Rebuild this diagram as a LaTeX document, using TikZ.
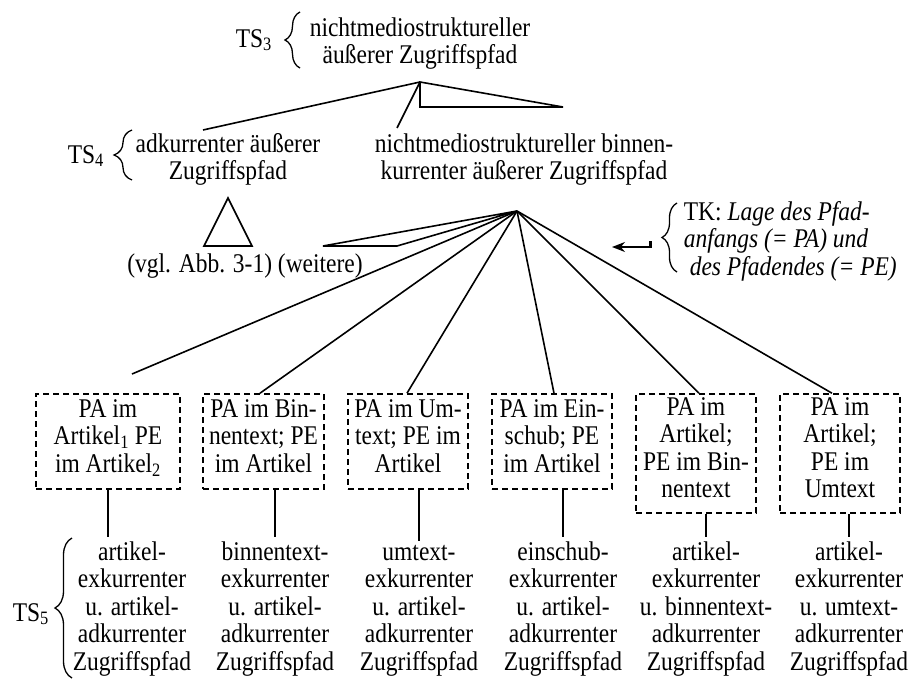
\documentclass[tikz,border=0pt]{standalone}
\usepackage{fontspec}
\setmainfont{Liberation Serif}[FakeStretch=0.87]
\usetikzlibrary{arrows.meta,decorations.pathreplacing}

% extra depth below the last line of a boxed label
\newcommand\lastdp{\rule[-13pt]{0pt}{13pt}}

\begin{document}
\begin{tikzpicture}[x=1pt,y=-1pt,line width=1.6pt,
  every node/.style={font=\fontsize{27}{27.5}\selectfont,inner sep=0pt},
  % multi-line texts are placed by the baseline of their last line
  txt/.style={align=center,anchor=base},
  lbl/.style={anchor=base west},
  casebox/.style={draw,dash pattern=on 6pt off 4pt,align=center,
    minimum height=#1,inner sep=0pt},
  w/.style={minimum width=#1},
  leaf/.style={align=center,anchor=base,inner ysep=3.5pt},
  brc/.style={decorate,decoration={brace,amplitude=#1},line width=1.3pt},
  tri/.style={line join=miter}]

\useasboundingbox (0,0) rectangle (918,680);

% ---- TS3: root
\node[txt] (root) at (420,63.5) {nichtmediostruktureller\\äußerer Zugriffspfad};
\node[lbl] (ts3) at (235,47) {TS\textsubscript{3}};
\draw[brc=15] (300,68) -- (300,12);

\coordinate (a1) at (420,82);
\draw[tri] (a1) -- (420,107) -- (563,107) -- cycle;

% ---- TS4
\node[txt] (adk) at (228,179.5) {adkurrenter äußerer\\Zugriffspfad};
\node[lbl] (ts4) at (67,163) {TS\textsubscript{4}};
\draw[brc=18] (132,180) -- (132,130);
\coordinate (c1) at (203,130);
\coordinate (c2) at (397,128);
\draw (a1) -- (c1);
\draw (a1) -- (c2);

\draw[tri] (228,198) -- (252,246) -- (204,246) -- cycle;
\node[txt] (vgl) at (245,272) {(vgl. Abb. 3-1) (weitere)};

\node[txt] (bin) at (524,179.5) {nichtmediostruktureller binnen-\\kurrenter äußerer Zugriffspfad};

\coordinate (a2) at (517,211);
\draw[tri] (a2) -- (397,246) -- (323,246) -- cycle;

% ---- TK annotation
\node[anchor=base west,align=left] (tk) at (683,275)
  {TK: \textit{Lage des Pfad-}\\\textit{anfangs (= PA) und}\\\hspace*{6pt}\textit{des Pfadendes (= PE)}};
\draw[brc=15] (677,272) -- (677,203);
\coordinate (ar1) at (650,241);
\coordinate (ar2) at (612,247);
\draw[line width=3pt] (ar1) -- ([yshift=1pt]ar1 |- ar2);
\draw[-{Stealth[length=13pt,width=10pt]}] ([xshift=1.5pt]ar1 |- ar2) -- (ar2);

% ---- case boxes
\node[casebox=95pt,w=144pt] (b1) at (108,441.5)
  {\strut PA im\\Artikel\textsubscript{1} PE\\im Artikel\textsubscript{2}\lastdp};
\node[casebox=95pt,w=121pt] (b2) at (263.5,441.5)
  {\strut PA im Bin-\\nentext; PE\\im Artikel\lastdp};
\node[casebox=95pt,w=120pt] (b3) at (408,441.5)
  {\strut PA im Um-\\text; PE im\\Artikel\lastdp};
\node[casebox=95pt,w=120pt] (b4) at (552,441.5)
  {\strut PA im Ein-\\schub; PE\\im Artikel\lastdp};
\node[casebox=119pt,w=120pt] (b5) at (696,453.5)
  {\strut PA im\\Artikel;\\PE im Bin-\\nentext\lastdp};
\node[casebox=119pt,w=120pt] (b6) at (840,453.5)
  {\strut PA im\\Artikel;\\PE im\\Umtext\lastdp};

\coordinate (e1) at (132,374);
\draw (a2) -- (e1);
\draw (a2) -- ([xshift=-3.5pt]b2.north);
\draw (a2) -- ([xshift=-1pt]b3.north);
\draw (a2) -- ([xshift=2pt]b4.north);
\draw (a2) -- ([xshift=3pt]b5.north);
\draw (a2) -- ([xshift=-8pt]b6.north);

% ---- TS5: leaves
\node[leaf] (t1) at (132,670) {artikel-\\exkurrenter\\u. artikel-\\adkurrenter\\Zugriffspfad};
\node[leaf] (t2) at (275,670) {binnentext-\\exkurrenter\\u. artikel-\\adkurrenter\\Zugriffspfad};
\node[leaf] (t3) at (419,670) {umtext-\\exkurrenter\\u. artikel-\\adkurrenter\\Zugriffspfad};
\node[leaf] (t4) at (563,670) {einschub-\\exkurrenter\\u. artikel-\\adkurrenter\\Zugriffspfad};
\node[leaf] (t5) at (706,670) {artikel-\\exkurrenter\\u. binnentext-\\adkurrenter\\Zugriffspfad};
\node[leaf] (t6) at (849,670) {artikel-\\exkurrenter\\u. umtext-\\adkurrenter\\Zugriffspfad};
\node[lbl] (ts5) at (12,621) {TS\textsubscript{5}};
\draw[brc=17] (72,678) -- (72,538);

\draw (b1.south) -- (b1.south |- t1.north);
\draw (t2.north |- b2.south) -- (t2.north);
\draw (t3.north |- b3.south) -- (t3.north);
\draw (t4.north |- b4.south) -- (t4.north);
\draw (t5.north |- b5.south) -- (t5.north);
\draw (t6.north |- b6.south) -- (t6.north);
\end{tikzpicture}
\end{document}
